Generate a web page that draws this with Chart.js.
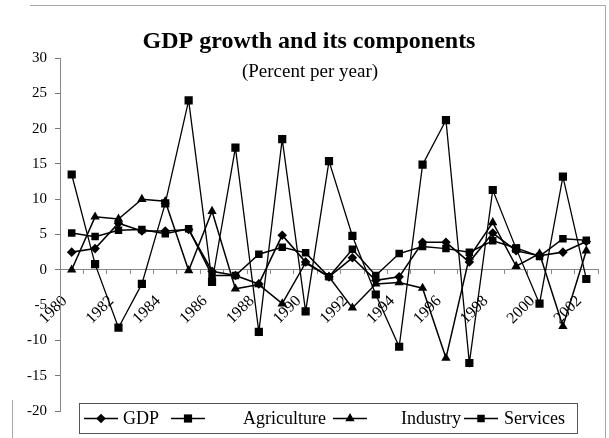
<!DOCTYPE html>
<html>
<head>
<meta charset="utf-8">
<script src="https://cdn.jsdelivr.net/npm/chart.js@4/dist/chart.umd.min.js"></script>
<style>
  html, body { margin: 0; padding: 0; background: #fff; }
  #wrap { width: 609px; height: 438px; }
</style>
</head>
<body>
<div id="wrap"><canvas id="c" width="609" height="438"></canvas></div>
<script>
// Annual growth rates, percent per year
const years = ['1980','1981','1982','1983','1984','1985','1986','1987','1988','1989','1990',
               '1991','1992','1993','1994','1995','1996','1997','1998','1999','2000','2001','2002'];
const gdp         = [2.5, 3.0, 6.6, 5.5, 5.5, 5.7, -0.2, -0.8, -2.0, 4.9, 1.1, -1.0, 1.7, -1.5, -1.0, 3.9, 3.9, 1.1, 5.2, 2.7, 2.0, 2.5, 4.0];
const agriculture = [13.5, 0.8, -8.2, -2.0, 9.4, 24.0, -1.7, 17.3, -8.8, 18.5, -5.9, 15.4, 4.8, -3.5, -10.9, 14.9, 21.2, -13.2, 11.3, 3.0, -4.8, 13.2, -1.3];
const industry    = [0.0, 7.5, 7.2, 10.0, 9.7, -0.1, 8.3, -2.7, -2.1, -4.8, 1.0, -1.0, -5.4, -2.0, -1.8, -2.6, -12.5, 1.8, 6.7, 0.5, 2.3, -8.0, 2.7];
const services    = [5.2, 4.7, 5.6, 5.7, 5.1, 5.8, -0.8, -0.8, 2.2, 3.2, 2.4, -1.0, 2.9, -0.8, 2.3, 3.3, 3.0, 2.5, 4.1, 3.1, 1.9, 4.4, 4.2];

const yMin = -20, yMax = 30, yStep = 5;
const titleText = 'GDP growth and its components';
const subtitleText = '(Percent per year)';

const SERIF = '"Liberation Serif", "Times New Roman", serif';

// Marker drawing shared by the legend
function marker(ctx, style, x, y, r) {
  ctx.beginPath();
  if (style === 'rectRot') {
    ctx.moveTo(x, y - r); ctx.lineTo(x + r, y); ctx.lineTo(x, y + r); ctx.lineTo(x - r, y);
  } else if (style === 'triangle') {
    ctx.moveTo(x, y - r);
    ctx.lineTo(x + r * 0.866, y + r * 0.5);
    ctx.lineTo(x - r * 0.866, y + r * 0.5);
  } else {
    const s = r * Math.SQRT1_2;
    ctx.rect(x - s, y - s, 2 * s, 2 * s);
  }
  ctx.closePath();
  ctx.fill();
}

// White page, light outer frame, title lines and boxed legend
const decorations = {
  id: 'decorations',
  beforeDraw(chart) {
    const ctx = chart.ctx;
    ctx.save();
    ctx.fillStyle = '#fff';
    ctx.fillRect(0, 0, chart.width, chart.height);
    ctx.strokeStyle = '#a8a8a8';
    ctx.lineWidth = 1;
    ctx.beginPath();
    ctx.moveTo(12.5, 438); ctx.lineTo(12.5, 400);
    ctx.moveTo(30, 5.5); ctx.lineTo(605.5, 5.5); ctx.lineTo(605.5, 438);
    ctx.stroke();
    ctx.restore();
  },
  afterDraw(chart) {
    const ctx = chart.ctx;
    ctx.save();
    ctx.fillStyle = '#000';
    ctx.textAlign = 'center';
    ctx.textBaseline = 'alphabetic';
    ctx.font = 'bold 24px ' + SERIF;
    ctx.fillText(titleText, 309, 48);
    ctx.font = '19px ' + SERIF;
    ctx.fillText(subtitleText, 310, 77);

    // legend
    const box = { x: 79.5, y: 403.5, w: 498, h: 30 };
    ctx.fillStyle = '#fff';
    ctx.fillRect(box.x, box.y, box.w, box.h);
    ctx.strokeStyle = '#555';
    ctx.lineWidth = 1;
    ctx.strokeRect(box.x, box.y, box.w, box.h);
    const markX = [101, 188, 350, 481];
    const textX = [123, 243, 401, 504];
    const cy = box.y + box.h / 2;
    ctx.font = '18px ' + SERIF;
    ctx.textAlign = 'left';
    ctx.textBaseline = 'middle';
    chart.data.datasets.forEach((ds, i) => {
      ctx.strokeStyle = '#000';
      ctx.fillStyle = '#000';
      ctx.lineWidth = 1.5;
      ctx.beginPath();
      ctx.moveTo(markX[i] - 17, cy);
      ctx.lineTo(markX[i] + 17, cy);
      ctx.stroke();
      marker(ctx, ds.pointStyle, markX[i], cy, ds.pointRadius);
      ctx.fillText(ds.label, textX[i], cy + 1);
    });
    ctx.restore();
  }
};

const line = (label, data, style, r, width) => ({
  label, data,
  borderColor: '#000', backgroundColor: '#000',
  borderWidth: width,
  pointStyle: style, pointRadius: r, pointHoverRadius: r,
  pointBackgroundColor: '#000', pointBorderColor: '#000', pointBorderWidth: 0,
  tension: 0, fill: false
});

new Chart(document.getElementById('c'), {
  type: 'line',
  data: {
    labels: years,
    datasets: [
      line('GDP', gdp, 'rectRot', 4.8, 1.6),
      line('Agriculture', agriculture, 'rect', 5.8, 1.3),
      line('Industry', industry, 'triangle', 5.4, 1.5),
      line('Services', services, 'rect', 5.3, 1.5)
    ]
  },
  options: {
    responsive: false,
    animation: false,
    devicePixelRatio: 1,
    layout: { padding: { left: 0, top: 58, right: 11, bottom: 27 } },
    plugins: {
      legend: { display: false },
      title: { display: false },
      tooltip: { enabled: false }
    },
    scales: {
      x: {
        type: 'category',
        position: { y: 0 },
        offset: true,
        afterFit(s) { s.height = 0; s.paddingLeft = 0; s.paddingRight = 0; },
        grid: { offset: true, drawOnChartArea: false, drawTicks: true, tickLength: 4, color: '#888' },
        border: { color: '#888', width: 1 },
        ticks: {
          autoSkip: false,
          minRotation: 45, maxRotation: 45,
          padding: 18,
          labelOffset: -7,
          color: '#000',
          font: { family: SERIF, size: 16 },
          callback: (v, i) => (i % 2 === 0 ? years[i] : '')
        }
      },
      y: {
        min: yMin, max: yMax,
        afterFit(s) { s.width = 60; },
        grid: { drawOnChartArea: false, drawTicks: true, tickLength: 5, color: '#777' },
        border: { color: '#888', width: 1 },
        ticks: {
          stepSize: yStep,
          padding: 8,
          color: '#000',
          font: { family: SERIF, size: 15 }
        }
      }
    }
  },
  plugins: [decorations]
});
</script>
</body>
</html>
